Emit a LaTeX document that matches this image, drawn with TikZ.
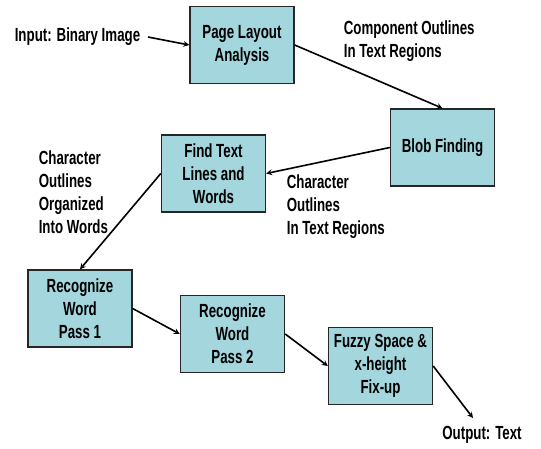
\documentclass[tikz,border=0pt]{standalone}
\usepackage{fontspec}
\setmainfont{Liberation Sans}[FakeStretch=0.7]
\definecolor{boxblue}{HTML}{A3D6DD}
\begin{document}
\begin{tikzpicture}[x=1pt,y=-1pt,->,>=stealth,line width=1.6pt,
  font=\fontsize{19}{23}\selectfont\bfseries,
  stage/.style={draw=black!85,line width=1.4pt,fill=boxblue,minimum width=104pt,minimum height=77pt,align=center,inner sep=1pt},
  lbl/.style={align=left,inner sep=0pt}]
\useasboundingbox (0,0) rectangle (541,448);
\node[stage] (PLA) at (242,45) {Page Layout\\Analysis};
\node[stage] (BLOB) at (442.5,147.5) {Blob Finding};
\node[stage] (FTL) at (213.5,173.5) {Find Text\\Lines and\\Words};
\node[stage] (RW1) at (80,308.5) {Recognize\\Word\\Pass 1};
\node[stage] (RW2) at (232.5,334) {Recognize\\Word\\Pass 2};
\node[stage] (FSX) at (380.5,366) {Fuzzy Space \&\\x-height\\Fix-up};
\node[lbl,anchor=west] (IN) at (14,37) {Input: Binary Image};
\node[lbl,anchor=west] (CO) at (343,41.5) {Component Outlines\\In Text Regions};
\node[lbl,anchor=west] (CTR) at (286,207) {Character\\Outlines\\In Text Regions};
\node[lbl,anchor=west] (COW) at (38,192) {Character\\Outlines\\Organized\\Into Words};
\node[lbl] (OUT) at (482,435) {Output: Text};
\coordinate (OE) at (473,418);
\draw ([xshift=7pt]IN.east) -- (PLA.west);
\draw (PLA.east) -- (BLOB.north);
\draw (BLOB.west) -- (FTL.east);
\draw (FTL.west) -- (RW1.north);
\draw (RW1.east) -- (RW2.west);
\draw (RW2.east) -- (FSX.west);
\draw (FSX.east) -- (OE);
\end{tikzpicture}
\end{document}
